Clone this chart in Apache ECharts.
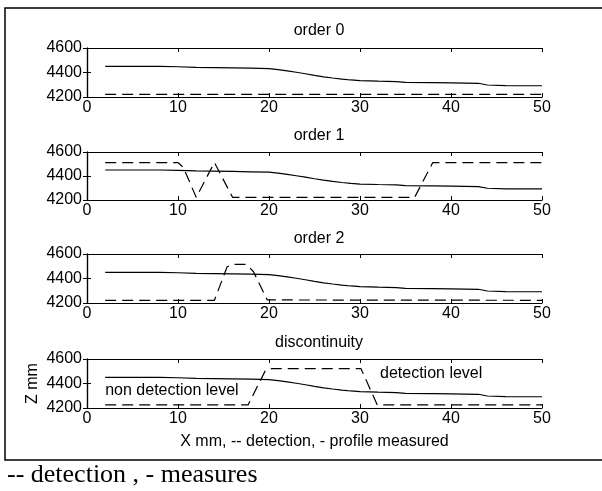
<!DOCTYPE html>
<html>
<head>
<meta charset="utf-8">
<script src="https://cdn.jsdelivr.net/npm/echarts@6/dist/echarts.min.js"></script>
<style>
html,body{margin:0;padding:0;background:#fff;}
#chart{width:602px;height:491px;}
</style>
</head>
<body>
<div id="chart"></div>
<script>
// ---- data ----
var titles = ['order 0', 'order 1', 'order 2', 'discontinuity'];
var xTicks = [0, 10, 20, 30, 40, 50];
var yTicks = [4200, 4400, 4600];

var profileX = [2, 4, 6, 8, 10, 12, 14, 16, 18, 20, 21, 22, 23, 24, 25, 26, 27, 28, 29, 30, 32, 34, 35, 38, 40, 43, 44, 46, 48, 50];
var profileZ = [4450, 4450, 4450, 4450, 4447, 4442, 4440, 4438, 4435, 4432, 4424, 4414, 4402, 4390, 4377, 4365, 4355, 4346, 4339, 4333, 4329, 4326, 4320, 4318, 4316, 4312, 4298, 4293, 4292, 4292];

var det0X = [2, 50];
var det0Z = [4222, 4222];
var det1X = [2, 10, 10.6, 12, 14, 16, 36, 38, 50];
var det1Z = [4512, 4512, 4470, 4222, 4512, 4222, 4222, 4512, 4512];
var det2X = [2, 14, 15.4, 16, 17.5, 18.3, 19.8, 50];
var det2Z = [4222, 4222, 4496, 4515, 4515, 4455, 4225, 4222];
var det3X = [2, 17.7, 19.6, 20.3, 30.1, 31.9, 50];
var det3Z = [4225, 4225, 4505, 4522, 4522, 4225, 4225];

var noteText = ['non detection level', 'detection level'];
var noteX = [2, 32.2];
var noteZ = [4341, 4478];

var xAxisName = 'X mm, -- detection, - profile measured';
var yAxisName = 'Z mm';
var caption = '-- detection , - measures';

// ---- build ----
function pairs(xs, ys) { return xs.map(function (x, i) { return [x, ys[i]]; }); }
var dets = [pairs(det0X, det0Z), pairs(det1X, det1Z), pairs(det2X, det2Z), pairs(det3X, det3Z)];
var profile = pairs(profileX, profileZ);

var FONT = 'Liberation Sans, Arial, sans-serif';
var gridTops = [48, 152, 254, 359];
var gridHeights = [49, 48, 49, 49];
var titleTops = [18, 123, 226, 330];

var grids = [], xAxes = [], yAxes = [], series = [], titleArr = [];
for (var g = 0; g < 4; g++) {
  grids.push({ left: 87, right: 60, top: gridTops[g], height: gridHeights[g], containLabel: false });
  titleArr.push({ text: titles[g], left: 314, top: titleTops[g], textAlign: 'center',
    textStyle: { fontFamily: FONT, fontSize: 16, fontWeight: 'normal', color: '#000' } });
  var axLine = { show: true, lineStyle: { color: '#000', width: 1.2 } };
  var tick = { show: true, inside: true, length: 4, lineStyle: { color: '#000', width: 1 } };
  var xa = { gridIndex: g, type: 'value', min: xTicks[0], max: xTicks[xTicks.length - 1], interval: 10,
    axisLine: axLine, axisTick: tick, splitLine: { show: false },
    axisLabel: { color: '#000', fontFamily: FONT, fontSize: 16, margin: 3,
      formatter: function (v) { return xTicks.indexOf(v) >= 0 ? String(v) : ''; } } };
  if (g === 3) {
    xa.name = xAxisName; xa.nameLocation = 'middle'; xa.nameGap = 26; xa.nameMoveOverlap = false;
    xa.nameTextStyle = { color: '#000', fontFamily: FONT, fontSize: 16 };
  }
  xAxes.push(xa);
  xAxes.push({ gridIndex: g, type: 'value', position: 'top', min: 0, max: 50, interval: 10,
    axisLine: axLine, axisTick: tick, axisLabel: { show: false }, splitLine: { show: false } });
  var ya = { gridIndex: g, type: 'value', min: yTicks[0], max: yTicks[yTicks.length - 1], interval: 200,
    axisLine: axLine, axisTick: tick, splitLine: { show: false },
    axisLabel: { color: '#000', fontFamily: FONT, fontSize: 16, margin: 5,
      formatter: function (v) { return String(v); } } };
  if (g === 3) {
    ya.name = yAxisName; ya.nameLocation = 'middle'; ya.nameGap = 46; ya.nameMoveOverlap = false;
    ya.nameTextStyle = { color: '#000', fontFamily: FONT, fontSize: 16 };
  }
  yAxes.push(ya);
  yAxes.push({ gridIndex: g, type: 'value', position: 'right', min: 4200, max: 4600, interval: 200,
    axisLine: axLine, axisTick: tick, axisLabel: { show: false }, splitLine: { show: false } });

  series.push({ type: 'line', xAxisIndex: 2 * g, yAxisIndex: 2 * g, data: profile, symbol: 'none',
    lineStyle: { color: '#000', width: 1.2 }, silent: true });
  var ds = { type: 'line', xAxisIndex: 2 * g, yAxisIndex: 2 * g, data: dets[g], symbol: 'none',
    lineStyle: { color: '#000', width: 1.2, type: [11, 6] }, silent: true };
  if (g === 3) {
    ds.markPoint = { symbol: 'circle', symbolSize: 0, silent: true,
      data: noteText.map(function (t, i) {
        return { coord: [noteX[i], noteZ[i]], value: t,
          label: { show: true, position: 'right', distance: 0, formatter: t,
            color: '#000', fontFamily: FONT, fontSize: 16 } };
      }) };
  }
  series.push(ds);
}

var chart = echarts.init(document.getElementById('chart'), null, { renderer: 'canvas' });
chart.setOption({
  animation: false,
  backgroundColor: '#fff',
  title: titleArr,
  grid: grids,
  xAxis: xAxes,
  yAxis: yAxes,
  series: series,
  graphic: [
    { type: 'polyline', shape: { points: [[620, 8], [5, 8], [5, 460], [620, 460]] },
      style: { stroke: '#000', lineWidth: 1.5, fill: null } },
    { type: 'text', left: 7, top: 462,
      style: { text: caption, font: '26px "Liberation Serif", "Times New Roman", serif', fill: '#000' } }
  ]
});
</script>
</body>
</html>
